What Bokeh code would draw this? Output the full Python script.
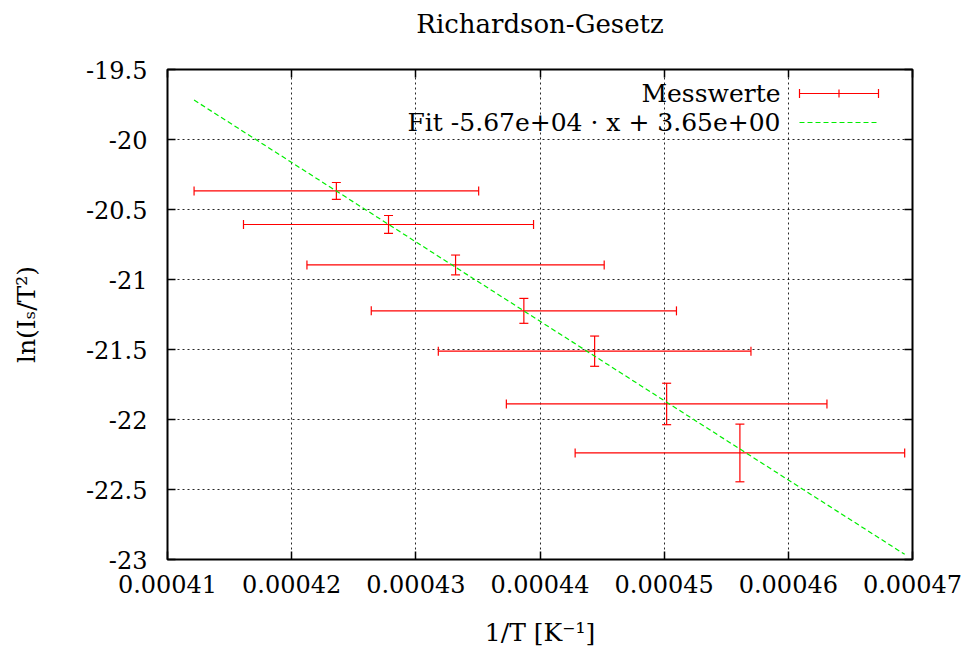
import numpy as np
from bokeh.plotting import figure
from bokeh.models import (ColumnDataSource, Whisker, TeeHead, Label,
                          LinearAxis, FixedTicker, CustomJSTickFormatter)
from bokeh.embed import file_html
from bokeh.resources import INLINE

# ---------------- data ----------------
title_text = "Richardson-Gesetz"
x_label = "1/T [K⁻¹]"
y_label = "ln(Iₛ/T²)"

inv_T = [0.0004236, 0.0004278, 0.0004332, 0.0004387, 0.0004444, 0.0004502, 0.0004561]
ln_IT2 = [-20.367, -20.607, -20.896, -21.224, -21.512, -21.889, -22.239]
inv_T_err = [1.146e-5, 1.168e-5, 1.197e-5, 1.229e-5, 1.259e-5, 1.291e-5, 1.327e-5]
ln_IT2_err = [0.060, 0.064, 0.071, 0.089, 0.108, 0.148, 0.206]

fit_slope = -5.67e4
fit_intercept = 3.65

x_ticks = [0.00041, 0.00042, 0.00043, 0.00044, 0.00045, 0.00046, 0.00047]
y_ticks = [-23.0, -22.5, -22.0, -21.5, -21.0, -20.5, -20.0, -19.5]

legend_labels = ["Messwerte", f"Fit {fit_slope:.2e} · x + {fit_intercept:.2e}"]

# ---------------- styling ----------------
FONT = "DejaVu Serif"
RED = "#ff0000"
GREEN = "#00ee00"
FW, FH = 745, 490

x = np.array(inv_T)
y = np.array(ln_IT2)
xe = np.array(inv_T_err)
ye = np.array(ln_IT2_err)

src = ColumnDataSource(dict(x=x, y=y, xlo=x - xe, xhi=x + xe, ylo=y - ye, yhi=y + ye))

p = figure(frame_width=FW, frame_height=FH,
           x_range=(x_ticks[0], x_ticks[-1]), y_range=(y_ticks[0], y_ticks[-1]),
           output_backend="svg", toolbar_location=None,
           min_border_left=167, min_border_right=51, min_border_top=69, min_border_bottom=82,
           background_fill_color="white", border_fill_color="white")

p.title.text = title_text
p.title.align = "center"
p.title.text_font = FONT
p.title.text_font_size = "26px"
p.title.text_font_style = "normal"
p.title.text_color = "black"
p.title.standoff = 10
p.title.padding = dict(left=0, right=0, top=0, bottom=26)

p.outline_line_color = "black"
p.outline_line_width = 2

fmt = "return String(Number(tick.toPrecision(6)))"

for ax, ticks in ((p.xaxis[0], x_ticks), (p.yaxis[0], y_ticks)):
    ax.ticker = FixedTicker(ticks=ticks)
    ax.formatter = CustomJSTickFormatter(code=fmt)
    ax.major_label_text_font = FONT
    ax.major_label_text_font_size = "24px"
    ax.major_label_text_color = "black"
    ax.axis_label_text_font = FONT
    ax.axis_label_text_font_size = "25px"
    ax.axis_label_text_font_style = "normal"
    ax.axis_label_text_color = "black"
    ax.major_tick_in = 8
    ax.major_tick_out = 0
    ax.major_tick_line_width = 1.5
    ax.major_tick_line_color = "black"
    ax.minor_tick_line_color = None
    ax.axis_line_color = None

p.xaxis.axis_label = x_label
p.yaxis.axis_label = y_label
p.xaxis.major_label_standoff = 15
p.xaxis.axis_label_standoff = 22
p.yaxis.major_label_standoff = 20
p.yaxis.axis_label_standoff = 42

# mirrored ticks on top and right (no labels)
top = LinearAxis(ticker=FixedTicker(ticks=x_ticks))
right = LinearAxis(ticker=FixedTicker(ticks=y_ticks))
for ax in (top, right):
    ax.major_label_text_color = None
    ax.major_label_text_font_size = "1px"
    ax.major_label_standoff = 0
    ax.major_tick_in = 8
    ax.major_tick_out = 0
    ax.major_tick_line_width = 1.5
    ax.major_tick_line_color = "black"
    ax.minor_tick_line_color = None
    ax.axis_line_color = None
p.add_layout(top, "above")
p.add_layout(right, "right")

for g in (p.xgrid[0], p.ygrid[0]):
    g.grid_line_color = "black"
    g.grid_line_dash = "2 3"
    g.grid_line_width = 1
    g.grid_line_alpha = 0.85

# ---------------- fit line ----------------
fit_x = np.array([np.min(x - xe), np.max(x + xe)])
fit_y = fit_slope * fit_x + fit_intercept
p.line(fit_x, fit_y, line_color=GREEN, line_width=1.2, line_dash="5 3")

# ---------------- error bars ----------------
def tee():
    return TeeHead(size=9, line_color=RED, line_width=1.2)

p.add_layout(Whisker(source=src, base="y", lower="xlo", upper="xhi", dimension="width",
                     line_color=RED, line_width=1.2, lower_head=tee(), upper_head=tee()))
p.add_layout(Whisker(source=src, base="x", lower="ylo", upper="yhi", dimension="height",
                     line_color=RED, line_width=1.2, lower_head=tee(), upper_head=tee()))

# ---------------- legend (gnuplot style: text left, sample right) ----------------
row_y = [466, 437]
text_right = 613
s_lo, s_hi = 632, 711
for lab, ry in zip(legend_labels, row_y):
    p.add_layout(Label(x=text_right, y=ry, x_units="screen", y_units="screen",
                       text=lab, text_align="right", text_baseline="middle",
                       text_font=FONT, text_font_size="25px", text_color="black"))

leg_src = ColumnDataSource(dict(b=[row_y[0]], lo=[s_lo], hi=[s_hi],
                                c=[(s_lo + s_hi) / 2], clo=[row_y[0] - 4], chi=[row_y[0] + 4],
                                b2=[row_y[1]], hi2=[s_hi - 2]))
p.add_layout(Whisker(source=leg_src, base="b", lower="lo", upper="hi", dimension="width",
                     base_units="screen", lower_units="screen", upper_units="screen",
                     line_color=RED, line_width=1.2, lower_head=tee(), upper_head=tee()))
p.add_layout(Whisker(source=leg_src, base="c", lower="clo", upper="chi", dimension="height",
                     base_units="screen", lower_units="screen", upper_units="screen",
                     line_color=RED, line_width=1.2, lower_head=None, upper_head=None))
p.add_layout(Whisker(source=leg_src, base="b2", lower="lo", upper="hi2", dimension="width",
                     base_units="screen", lower_units="screen", upper_units="screen",
                     line_color=GREEN, line_width=1.2, line_dash="5 3",
                     lower_head=None, upper_head=None))

open("out.html", "w").write(file_html(p, INLINE))
